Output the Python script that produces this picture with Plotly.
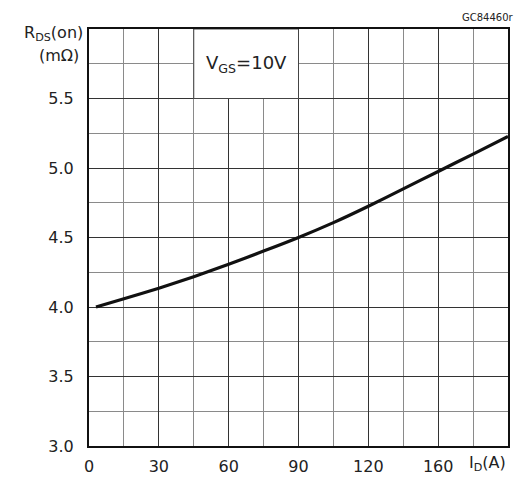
import plotly.graph_objects as go

# Data
drain_current = [3, 15, 30, 45, 60, 75, 90, 105, 120, 135, 150, 165, 180]
rds_on = [4.00, 4.06, 4.135, 4.218, 4.308, 4.402, 4.50, 4.607, 4.725, 4.85, 4.975, 5.10, 5.227]

x_tickvals = [0, 30, 60, 90, 120, 150]
x_ticktext = ["0", "30", "60", "90", "120", "160"]
y_tickvals = [3.0, 3.5, 4.0, 4.5, 5.0, 5.5]
y_ticktext = ["3.0", "3.5", "4.0", "4.5", "5.0", "5.5"]

FONT = "DejaVu Sans"
TXT = "#222222"

fig = go.Figure()
fig.add_trace(go.Scatter(
    x=drain_current, y=rds_on, mode="lines",
    line=dict(color="#111111", width=3.2, shape="spline", smoothing=0.6),
    showlegend=False, hoverinfo="skip",
))

fig.update_layout(
    width=520, height=477,
    margin=dict(l=89, r=12, t=29, b=31, autoexpand=False),
    paper_bgcolor="white", plot_bgcolor="white",
    font=dict(family=FONT, size=16, color=TXT),
)

fig.update_xaxes(
    range=[0, 180], tickmode="array", tickvals=x_tickvals, ticktext=x_ticktext,
    showgrid=True, gridcolor="#333333", gridwidth=1,
    minor=dict(dtick=15, showgrid=True, gridcolor="#8a8a8a", gridwidth=1),
    showline=True, linecolor="#111111", linewidth=2, mirror=True,
    ticks="", zeroline=False, ticklabelstandoff=5, automargin=False,
    tickfont=dict(family=FONT, size=16, color=TXT),
)
fig.update_yaxes(
    range=[3.0, 6.0], tickmode="array", tickvals=y_tickvals, ticktext=y_ticktext,
    showgrid=True, gridcolor="#333333", gridwidth=1,
    minor=dict(dtick=0.25, showgrid=True, gridcolor="#8a8a8a", gridwidth=1),
    showline=True, linecolor="#111111", linewidth=2, mirror=True,
    ticks="", zeroline=False, ticklabelstandoff=10, automargin=False,
    tickfont=dict(family=FONT, size=16, color=TXT),
)

# White box for the VGS label
fig.add_shape(type="rect", xref="x", yref="y", x0=45, x1=90, y0=5.5, y1=6.0,
              fillcolor="white", line=dict(color="#444444", width=1), layer="above")

fig.add_annotation(xref="x", yref="y", x=67.5, y=5.75,
                   text="V<sub>GS</sub>=10V", showarrow=False,
                   font=dict(family=FONT, size=18, color=TXT))

fig.add_annotation(xref="paper", yref="y", x=0, y=5.965, xanchor="right", xshift=-4,
                   text="R<sub>DS</sub>(on)", showarrow=False,
                   font=dict(family=FONT, size=16, color=TXT))
fig.add_annotation(xref="paper", yref="y", x=0, y=5.81, xanchor="right", xshift=-8,
                   text="(mΩ)", showarrow=False,
                   font=dict(family=FONT, size=16, color=TXT))

fig.add_annotation(xref="x", yref="paper", x=171, y=0, yanchor="top", yshift=-5,
                   text="I<sub>D</sub>(A)", showarrow=False,
                   font=dict(family=FONT, size=16, color=TXT))

fig.add_annotation(xref="paper", yref="paper", x=1, y=1, xanchor="right", yanchor="bottom",
                   xshift=8, yshift=4,
                   text="GC84460r", showarrow=False,
                   font=dict(family=FONT, size=10, color=TXT))

fig.write_html("out.html", config={"displayModeBar": False},
               post_script="document.body.style.margin='0px';")
